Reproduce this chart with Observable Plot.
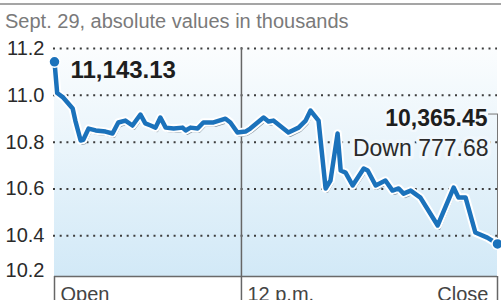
<!DOCTYPE html>
<html><head><meta charset="utf-8">
<script src="https://cdn.jsdelivr.net/npm/d3@7"></script>
<script src="https://cdn.jsdelivr.net/npm/@observablehq/plot@0.6"></script>
<style>
html,body{margin:0;background:#fff;font-family:"Liberation Sans",Arial,sans-serif;width:501px;height:300px;overflow:hidden}
#rule{margin-top:3px;border-top:2px solid #a5a5a5;}
#sub{margin-top:4px;height:24px;line-height:24px;font-size:20px;color:#7a7a7a;padding-left:5px;white-space:nowrap}
svg{display:block}
</style></head><body>
<div id="rule"></div><div id="sub"></div><div id="chart"></div>
<script>
const subtitle = "Sept. 29, absolute values in thousands";
// session position (0 = Open, 100 = Close), value in thousands
const times = [0, 0.6, 2.0, 4.1, 4.7, 5.9, 6.5, 7.7, 9.3, 11.5, 13.1, 14.4, 16.0, 17.6, 19.4, 20.5, 21.7, 22.8, 23.9, 25.1, 26.9, 28.9, 29.6, 30.7, 32.3, 33.6, 35.9, 38.6, 39.7, 41.3, 43.1, 44.2, 47.2, 48.3, 49.4, 52.8, 55.1, 56.7, 57.8, 59.6, 61.2, 62.3, 63.9, 64.6, 65.7, 67.3, 69.8, 70.7, 72.5, 74.7, 76.3, 77.7, 78.8, 80.4, 82.6, 86.5, 90.1, 91.2, 92.8, 95.0, 97.7, 100];
const values = [11.143, 11.01, 10.99, 10.944, 10.892, 10.807, 10.81, 10.858, 10.85, 10.845, 10.837, 10.884, 10.892, 10.871, 10.918, 10.88, 10.871, 10.862, 10.905, 10.862, 10.858, 10.862, 10.85, 10.862, 10.858, 10.884, 10.884, 10.9, 10.884, 10.841, 10.845, 10.858, 10.905, 10.888, 10.892, 10.841, 10.862, 10.892, 10.935, 10.892, 10.602, 10.636, 10.837, 10.679, 10.67, 10.615, 10.687, 10.679, 10.615, 10.636, 10.593, 10.602, 10.58, 10.593, 10.563, 10.444, 10.606, 10.563, 10.563, 10.414, 10.392, 10.365];
const yTicks = [10.4, 10.6, 10.8, 11.0, 11.2];
const yBottomLabel = ["10.2"];
const xTicks = [0, 42.2, 100];
const xTickLabels = ["Open", "12 p.m.", "Close"];
const openValue = 11143.13;
const closeValue = 10365.45;
const change = 777.68;
const bracketTop = 10.92;

const blue = "#1b72bb";
const yDomain = [10.226, 11.2];
const data = times.map((t, i) => ({t, v: values[i]}));
const ends = [data[0], data[data.length - 1]];
const last = data[data.length - 1];
const fmt = d3.format(",.2f");

document.getElementById("sub").textContent = subtitle;

const chart = Plot.plot({
  width: 501, height: 267,
  marginLeft: 54, marginRight: 4, marginTop: 15, marginBottom: 24,
  style: {fontFamily: "'Liberation Sans', Arial, sans-serif", fontSize: "20px", overflow: "visible"},
  x: {domain: [0, 100], axis: null},
  y: {domain: yDomain, axis: null},
  marks: [
    Plot.ruleY(yTicks, {stroke: "#3c3c3c", strokeWidth: 2, strokeDasharray: "2 4.7", insetLeft: -1}),
    Plot.ruleY([yDomain[0]], {stroke: "#6a6a6a", strokeWidth: 1.5}),
    Plot.axisX({ticks: xTicks, tickSize: 24, tickFormat: () => "", label: null, stroke: "#666", strokeWidth: 1.5}),
    Plot.ruleX([xTicks[1]], {stroke: "#666", strokeWidth: 1.5, insetTop: -1}),
    Plot.axisY({ticks: yTicks, tickSize: 0, tickPadding: 10, tickFormat: d3.format(".1f"), label: null, fill: "#2a2a2a", fontSize: 20}),
    Plot.text(yBottomLabel, {frameAnchor: "bottom-left", text: d => d, textAnchor: "end", lineAnchor: "bottom", dx: -10, fill: "#2a2a2a", fontSize: 20}),
    Plot.text(xTickLabels.slice(0, 2), {x: (d, i) => xTicks[i], frameAnchor: "bottom", text: d => d, textAnchor: "start", lineAnchor: "bottom", dx: 6, dy: 24, fill: "#444", fontSize: 20}),
    Plot.text(xTickLabels.slice(2), {x: () => xTicks[2], frameAnchor: "bottom", text: d => d, textAnchor: "end", lineAnchor: "bottom", dx: -9, dy: 24, fill: "#444", fontSize: 20}),
    Plot.line(data, {x: "t", y: "v", stroke: "#8494a0", strokeWidth: 3, dx: 1.5, dy: 3, strokeLinejoin: "round"}),
    Plot.line(data, {x: "t", y: "v", stroke: "#fff", strokeWidth: 8.5, strokeLinejoin: "round"}),
    Plot.line(data, {x: "t", y: "v", stroke: blue, strokeWidth: 4.5, strokeLinejoin: "round"}),
    Plot.text([openValue], {x: 0, y: openValue / 1000, text: d => fmt(d), textAnchor: "start", lineAnchor: "bottom", dx: 16, dy: 16, fontWeight: "bold", fontSize: 24, fill: "#1e1e1e"}),
    Plot.text([closeValue], {frameAnchor: "top-right", text: d => fmt(d), textAnchor: "end", lineAnchor: "bottom", dx: -10, dy: 77, fontWeight: "bold", fontSize: 23, fill: "#1e1e1e", stroke: "#f4f9fd", strokeWidth: 5}),
    Plot.text([change], {frameAnchor: "top-right", text: d => "Down " + fmt(d), textAnchor: "end", lineAnchor: "bottom", dx: -9, dy: 107, fontSize: 23, fill: "#2a2a2a", stroke: "#f0f7fc", strokeWidth: 7}),
    Plot.ruleY([last], {y: () => bracketTop, x1: () => 98, x2: "t", stroke: "#777", strokeWidth: 1}),
    Plot.ruleX([last], {x: "t", y1: () => bracketTop, y2: "v", stroke: "#777", strokeWidth: 1}),
    Plot.dot(ends, {x: "t", y: "v", r: 5.5, fill: blue, stroke: "#fff", strokeWidth: 1.5})
  ]
});
chart.style.background = "linear-gradient(#fbfdfe, #d2e9f7) 54px 15px / 443px 228px no-repeat";
document.getElementById("chart").appendChild(chart);
</script>
</body></html>
